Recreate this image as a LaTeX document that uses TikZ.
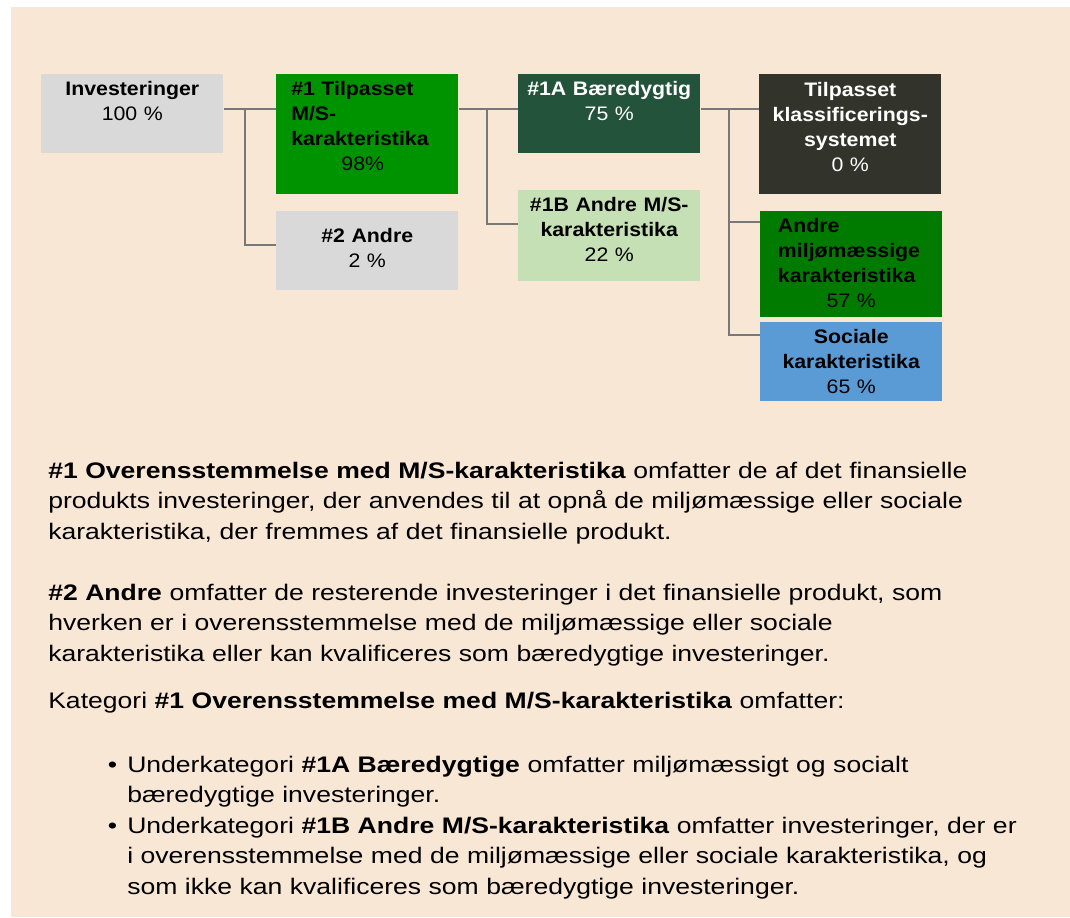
\documentclass[tikz,border=0pt]{standalone}
\usepackage{fontspec}
\setmainfont{Liberation Sans}[FakeStretch=1.18]
\newfontfamily\boxfont{Liberation Sans}[FakeStretch=1.09]
\usepackage{xcolor}
\usepackage{tikz}
\definecolor{bgbeige}{HTML}{F9E7D5}
\definecolor{boxgray}{HTML}{D9D9D9}
\definecolor{matchgreen}{HTML}{009300}
\definecolor{sustgreen}{HTML}{23533A}
\definecolor{lightgreen}{HTML}{C5E0B4}
\definecolor{taxodark}{HTML}{32332A}
\definecolor{envgreen}{HTML}{007B00}
\definecolor{socialblue}{HTML}{5B9BD5}
\definecolor{linkgray}{HTML}{787878}
\newdimen\pxu \pxu=0.025cm

\tikzset{
  catbox/.style={anchor=north west, inner sep=0pt, minimum width=182\pxu, align=center,
    text width=170\pxu, font=\boxfont\fontsize{13.9pt}{17.64pt}\selectfont},
  link/.style={draw=linkgray, line width=2.1pt},
  notetext/.style={anchor=base west, inner sep=0pt, align=left, text width=1000\pxu,
    font=\fontsize{16pt}{21.7pt}\selectfont},
}

\begin{document}
\begin{tikzpicture}[x=0.025cm, y=-0.025cm]
        \useasboundingbox (0,0) rectangle (1070,917);
        \fill[bgbeige] (10.5,7) rectangle (1070,917);

        % Boxes
        \node[catbox, fill=boxgray, minimum height=79\pxu, text height=21.7\pxu, text depth=57.3\pxu] (inv) at (41,74)
            {\textbf{Investeringer}\\100 \%};
        \node[catbox, fill=matchgreen, minimum height=120\pxu, text height=21.7\pxu, text depth=98.3\pxu,
              align=left, text width=152\pxu] (match) at (276,74)
            {\textbf{\#1 Tilpasset}\\\textbf{M/S-}\\\textbf{karakteristika}\\\makebox[\linewidth]{98\%\hspace{9\pxu}}};
        \node[catbox, fill=boxgray, minimum height=78.5\pxu, text height=31.7\pxu, text depth=46.8\pxu] (other) at (276,211)
            {\textbf{\#2 Andre}\\2 \%};
        \node[catbox, fill=sustgreen, text=white, minimum height=79\pxu, text height=21.7\pxu, text depth=57.3\pxu] (sust) at (518,74)
            {\textbf{\#1A Bæredygtig}\\75 \%};
        \node[catbox, fill=lightgreen, minimum height=91\pxu, text height=21.7\pxu, text depth=69.3\pxu] (othchar) at (518,190)
            {\textbf{\#1B Andre M/S-}\\\textbf{karakteristika}\\22 \%};
        \node[catbox, fill=taxodark, text=white, minimum height=120\pxu, text height=22.7\pxu, text depth=97.3\pxu] (taxo) at (759,74)
            {\textbf{Tilpasset}\\\textbf{klassificerings-}\\\textbf{systemet}\\0 \%};
        \node[catbox, fill=envgreen, minimum height=106\pxu, text height=21.7\pxu, text depth=84.3\pxu,
              align=left, text width=146.6\pxu] (envchar) at (760,211)
            {\textbf{Andre}\\\textbf{miljømæssige}\\\textbf{karakteristika}\\\makebox[\linewidth]{57 \%}};
        \node[catbox, fill=socialblue, minimum height=79\pxu, text height=21.3\pxu, text depth=57.7\pxu] (social) at (760,322)
            {\textbf{Sociale}\\\textbf{karakteristika}\\65 \%};

        % Connectors
        \coordinate (j1) at (245,109);
        \coordinate (j1b) at (245,245);
        \coordinate (j2) at (487,109);
        \coordinate (j2b) at (487,224);
        \coordinate (j3) at (729,109);
        \coordinate (j3m) at (729,222);
        \coordinate (j3b) at (729,335);
        \draw[link] (inv.east |- j1) -- (match.west |- j1);
        \draw[link] (j1) -- (j1b) -- (other.west |- j1b);
        \draw[link] (match.east |- j2) -- (sust.west |- j2);
        \draw[link] (j2) -- (j2b) -- (othchar.west |- j2b);
        \draw[link] (sust.east |- j3) -- (taxo.west |- j3);
        \draw[link] (j3) -- (j3b) -- (social.west |- j3b);
        \draw[link] (j3m) -- (envchar.west |- j3m);

        % Notes
        \node[notetext] (note1) at (48,478)
            {\textbf{\#1 Overensstemmelse med M/S-karakteristika} omfatter de af det finansielle\\
             produkts investeringer, der anvendes til at opnå de miljømæssige eller sociale\\
             karakteristika, der fremmes af det finansielle produkt.};
        \node[notetext] (note2) at (48,600)
            {\textbf{\#2 Andre} omfatter de resterende investeringer i det finansielle produkt, som\\
             hverken er i overensstemmelse med de miljømæssige eller sociale\\
             karakteristika eller kan kvalificeres som bæredygtige investeringer.};
        \node[notetext] (cat) at (48,708)
            {Kategori \textbf{\#1 Overensstemmelse med M/S-karakteristika} omfatter:};
        \node[notetext] (sub1) at (127,772)
            {\leavevmode\llap{•\hspace{10\pxu}}Underkategori \textbf{\#1A Bæredygtige} omfatter miljømæssigt og socialt\\
             bæredygtige investeringer.};
        \node[notetext] (sub2) at (127,833)
            {\leavevmode\llap{•\hspace{10\pxu}}Underkategori \textbf{\#1B Andre M/S-karakteristika} omfatter investeringer, der er\\
             i overensstemmelse med de miljømæssige eller sociale karakteristika, og\\
             som ikke kan kvalificeres som bæredygtige investeringer.};
    \end{tikzpicture}
\end{document}
